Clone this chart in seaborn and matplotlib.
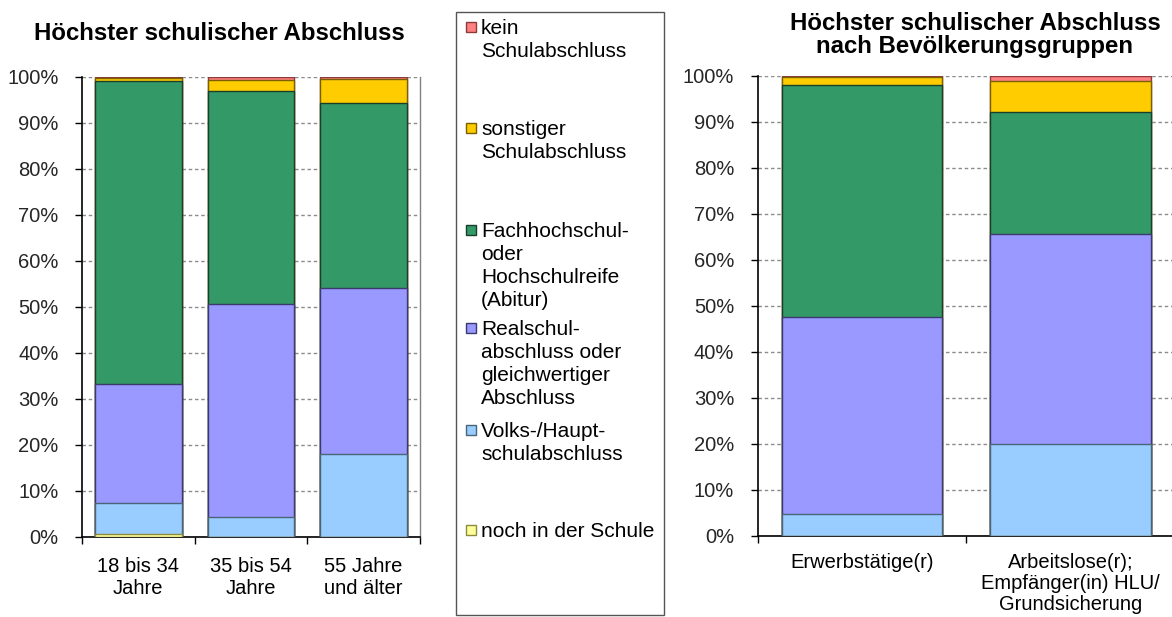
import matplotlib
matplotlib.use("Agg")
import matplotlib.pyplot as plt
import seaborn as sns
import pandas as pd
import numpy as np
from matplotlib.patches import Rectangle
from matplotlib.ticker import PercentFormatter, FixedLocator

# ---------------- data ----------------
series = ["kein Schulabschluss", "sonstiger Schulabschluss",
          "Fachhochschul- oder Hochschulreife (Abitur)",
          "Realschulabschluss oder gleichwertiger Abschluss",
          "Volks-/Hauptschulabschluss", "noch in der Schule"]
legend_labels = ["kein\nSchulabschluss", "sonstiger\nSchulabschluss",
                 "Fachhochschul-\noder\nHochschulreife\n(Abitur)",
                 "Realschul-\nabschluss oder\ngleichwertiger\nAbschluss",
                 "Volks-/Haupt-\nschulabschluss", "noch in der Schule"]
colors = ["#FF8080", "#FFCC00", "#339966", "#9999FF", "#99CCFF", "#FFFF99"]
edges = ["#8C3A3A", "#7A6000", "#173F2B", "#3A3A6E", "#4A6478", "#8A8A40"]

age_groups = ["18 bis 34\nJahre", "35 bis 54\nJahre", "55 Jahre\nund älter"]
noch_age = [0.7, 0.0, 0.0]
volks_age = [6.7, 4.3, 18.1]
real_age = [25.8, 46.3, 36.0]
abitur_age = [65.9, 46.3, 40.2]
sonst_age = [0.7, 2.4, 5.2]
kein_age = [0.2, 0.7, 0.5]

pop_groups = ["Erwerbstätige(r)", "Arbeitslose(r);\nEmpfänger(in) HLU/\nGrundsicherung"]
noch_pop = [0.0, 0.0]
volks_pop = [4.7, 19.9]
real_pop = [42.9, 45.6]
abitur_pop = [50.4, 26.7]
sonst_pop = [1.65, 6.6]
kein_pop = [0.35, 1.2]

title_left = "Höchster schulischer Abschluss"
title_right = "Höchster schulischer Abschluss\nnach Bevölkerungsgruppen"

# ---------------- style ----------------
sns.set_theme(style="white")
plt.rcParams["font.family"] = ["Liberation Sans", "DejaVu Sans"]

W, H = 1172, 617
fig = plt.figure(figsize=(W / 100, H / 100), dpi=100)
fig.patch.set_facecolor("white")


def stacked(ax, cats, layers_bottom_up, xpad, xls):
    # layers_bottom_up: list of value lists from bottom (noch) to top (kein)
    df = pd.DataFrame({"cat": cats})
    cum = np.zeros(len(cats))
    cums = []
    for vals in layers_bottom_up:
        cum = cum + np.array(vals)
        cums.append(cum.copy())
    # draw from the top layer (largest cumulative) down
    n = len(layers_bottom_up)
    for k in range(n - 1, -1, -1):
        si = n - 1 - k  # series index in top-down order
        d = df.copy()
        d["val"] = cums[k]
        sns.barplot(data=d, x="cat", y="val", order=cats, color=colors[si],
                    edgecolor=edges[si], linewidth=1.0, width=0.77,
                    saturation=1, ax=ax, zorder=3)
    ax.set_xlim(-0.5, len(cats) - 0.5)
    ax.set_ylim(0, 100)
    ax.set_xlabel("")
    ax.set_ylabel("")
    ax.yaxis.set_major_locator(FixedLocator(np.arange(0, 101, 10)))
    ax.yaxis.set_major_formatter(PercentFormatter(decimals=0))
    ax.yaxis.grid(True, color="#8C8C8C", linestyle=(0, (2.5, 2)), linewidth=1.0, zorder=0)
    ax.xaxis.grid(False)
    ax.set_axisbelow(True)
    ax.xaxis.set_minor_locator(FixedLocator(np.arange(-0.5, len(cats), 1.0)))
    ax.tick_params(axis="x", which="major", length=0, pad=xpad, labelsize=14.5, colors="#000000")
    ax.tick_params(axis="x", which="minor", length=5, width=1, color="#000000", direction="out", bottom=True)
    ax.tick_params(axis="y", which="major", length=5, width=1, color="#000000", direction="out",
                   left=True, pad=12, labelsize=14.5)
    for lab in ax.get_xticklabels():
        lab.set_linespacing(xls)
    ax.spines["left"].set_color("#000000")
    ax.spines["bottom"].set_color("#000000")
    ax.spines["left"].set_linewidth(1.2)
    ax.spines["bottom"].set_linewidth(1.2)
    ax.spines["top"].set_visible(False)
    ax.spines["right"].set_color("#808080")
    ax.spines["right"].set_linewidth(1.0)
    ax.patch.set_alpha(0)


ax1 = fig.add_axes([82 / W, 1 - 537 / H, 338 / W, 460 / H])
stacked(ax1, age_groups, [noch_age, volks_age, real_age, abitur_age, sonst_age, kein_age],
        14.5, 1.22)

ax2 = fig.add_axes([757.7 / W, 1 - 535.7 / H, 417 / W, 460 / H])
stacked(ax2, pop_groups, [noch_pop, volks_pop, real_pop, abitur_pop, sonst_pop, kein_pop],
        12.5, 1.14)

# titles
fig.text(219 / W, 1 - 33 / H, title_left, ha="center", va="center",
         fontsize=17.3, fontweight="bold", color="#000000")
fig.text(975 / W, 1 - 35 / H, title_right, ha="center", va="center",
         fontsize=17.3, fontweight="bold", color="#000000", linespacing=1.05)

# legend (manual, Excel-style layout)
fig.patches.append(Rectangle((456 / W, 1 - 615 / H), 208 / W, 603 / H,
                             transform=fig.transFigure, facecolor="white",
                             edgecolor="#555555", linewidth=1.0, zorder=0))
first_line_y = [27, 128, 230, 328, 430, 530]
for i, lab in enumerate(legend_labels):
    yc = first_line_y[i]
    fig.patches.append(Rectangle((466 / W, 1 - (yc + 5) / H), 10 / W, 10 / H,
                                 transform=fig.transFigure, facecolor=colors[i],
                                 edgecolor=edges[i], linewidth=1.0, zorder=2))
    fig.text(481 / W, 1 - (yc - 8) / H, lab, ha="left", va="top",
             fontsize=15, color="#000000", linespacing=1.27)

fig.savefig("out.png", dpi=100)
